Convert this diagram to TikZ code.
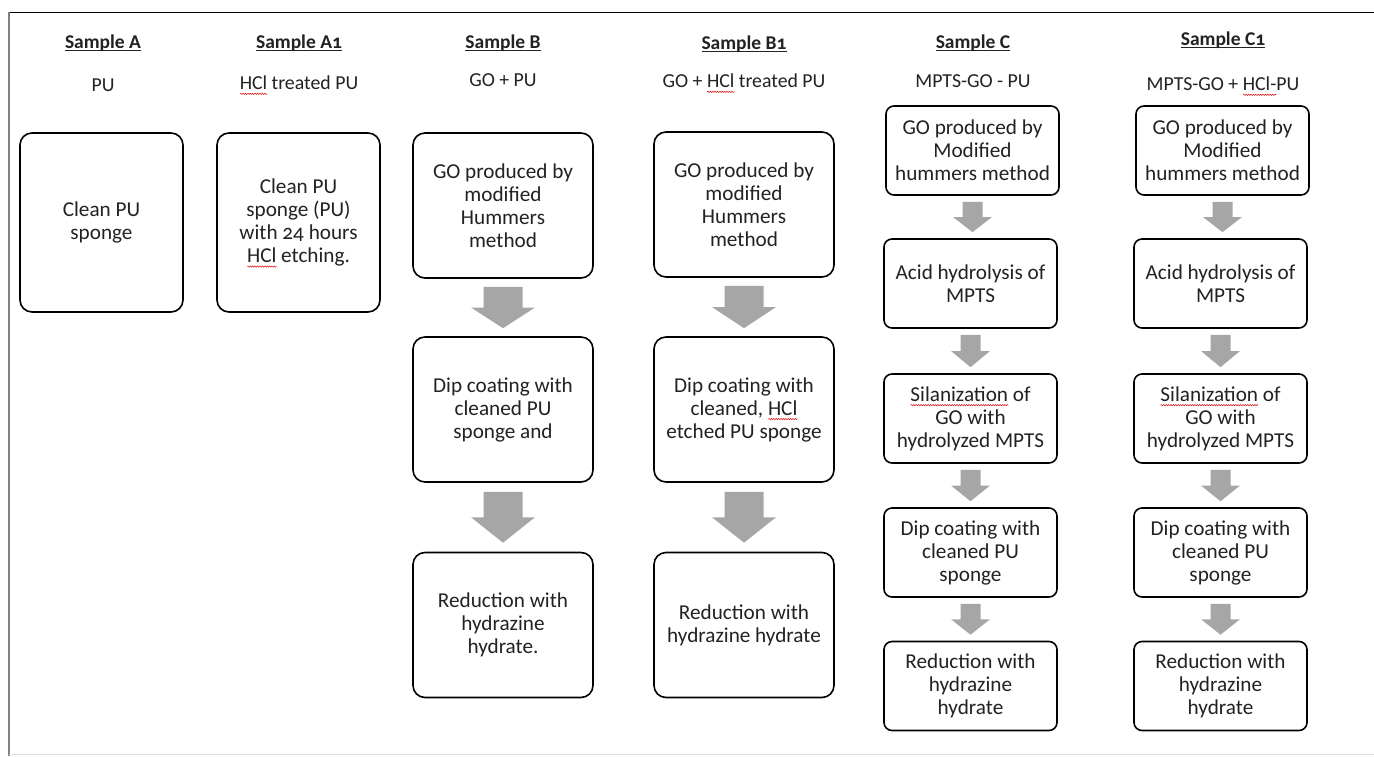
\documentclass[tikz,border=0pt]{standalone}
\usepackage{fontspec}
\setmainfont{Carlito}[Numbers=OldStyle]
\usetikzlibrary{calc,decorations.pathmorphing}
\newsavebox\mytbox
\newcommand\ul[1]{\sbox\mytbox{#1}\rlap{\rule[-3pt]{\wd\mytbox}{1.2pt}}\usebox\mytbox}
\tikzset{wavy/.style={draw=red!85!black, line width=0.45pt, sharp corners, decorate, decoration={snake,amplitude=0.7pt,segment length=2.4pt}}}
\newcommand\sqw[1]{\sbox\mytbox{#1}\rlap{\smash{\raisebox{-4pt}{\tikz[x=1pt,y=1pt,baseline=0pt]\path[wavy] (0,0) -- (\wd\mytbox,0);}}}\usebox\mytbox}
\definecolor{arrowgray}{RGB}{166,166,166}
\definecolor{txt}{RGB}{34,34,34}
\tikzset{
  box/.style={draw=black, line width=1.6pt, rounded corners=12pt, align=center, inner sep=0pt,
    text=txt, font=\fontsize{21.2}{23}\selectfont},
  bigbox/.style={box, minimum width=#1, minimum height=145pt},
  smallbox/.style={box, rounded corners=8pt, minimum width=173pt, minimum height=89pt},
  head/.style={font=\bfseries\fontsize{19.5}{22}\selectfont, text=txt, inner sep=0pt},
  sub/.style={font=\fontsize{19.8}{22}\selectfont, text=txt, inner sep=0pt},
}
% block arrow between two named boxes: from, to, body half width, head half width, gap
\newcommand\barrow[5]{\fill[arrowgray] let \p1=(#1.south), \p2=(#2.north) in
  (\x1-#3pt,\y1-#5pt) -- (\x1+#3pt,\y1-#5pt) -- (\x1+#3pt,{(\y1+\y2)/2}) -- (\x1+#4pt,{(\y1+\y2)/2})
  -- (\x1,\y2+#5pt) -- (\x1-#4pt,{(\y1+\y2)/2}) -- (\x1-#3pt,{(\y1+\y2)/2}) -- cycle;}
\begin{document}
\begin{tikzpicture}[x=1pt,y=-1pt]
\useasboundingbox[fill=white] (0,0) rectangle (1374,756);
% frame
\coordinate (f1) at (9,12);
\coordinate (f2) at (1374,12);
\coordinate (f3) at (9,756);
\coordinate (f4) at (1374,754);
\coordinate (f5) at (9,754);
\draw[black, line width=1pt] (f1) -- (f2);
\draw[gray, line width=2pt] (f1) -- (f3);
\draw[gray!25, line width=1pt] (f5) -- (f4);

% headings
\node[head] (hA)  at (103,43)  {\ul{Sample A}};
\node[head] (hA1) at (299,43)  {\ul{Sample A1}};
\node[head] (hB)  at (503,43)  {\ul{Sample B}};
\node[head] (hB1) at (744,44)  {\ul{Sample B1}};
\node[head] (hC)  at (973,43)  {\ul{Sample C}};
\node[head] (hC1) at (1223,40) {\ul{Sample C1}};

% subtitles
\node[sub] (sA)  at (103,85)  {PU};
\node[sub] (sA1) at (299,83)  {\sqw{HCl} treated PU};
\node[sub] (sB)  at (503,80)  {GO + PU};
\node[sub] (sB1) at (744,81)  {GO + \sqw{HCl} treated PU};
\node[sub] (sC)  at (973,81)  {MPTS-GO - PU};
\node[sub] (sC1) at (1223,84) {MPTS-GO + \sqw{HCl-}PU};

% sample A, A1
\node[box, minimum width=163pt, minimum height=179pt] (a)  at (101.5,222.5) {Clean PU\\sponge};
\node[box, minimum width=163pt, minimum height=179pt] (a1) at (298.5,222.5) {Clean PU\\sponge (PU)\\with 24 hours\\\sqw{HCl} etching.};

% sample B
\node[bigbox=180pt] (b1) at (503,205.5) {GO produced by\\modified\\Hummers\\method};
\node[bigbox=180pt] (b2) at (503,409.5) {Dip coating with\\cleaned PU\\sponge and};
\node[bigbox=180pt] (b3) at (503,625)   {Reduction with\\hydrazine\\hydrate.};
\barrow{b1}{b2}{19.5}{32}{8}
\barrow{b2}{b3}{19.5}{32}{9}

% sample B1
\node[bigbox=180pt] (c1) at (744,204.5) {GO produced by\\modified\\Hummers\\method};
\node[bigbox=180pt] (c2) at (744,409.5) {Dip coating with\\cleaned, \sqw{HCl}\\etched PU sponge};
\node[bigbox=180pt] (c3) at (744,625)   {Reduction with\\hydrazine hydrate};
\barrow{c1}{c2}{19.5}{32}{8}
\barrow{c2}{c3}{19.5}{32}{9}

% sample C
\node[smallbox] (d1) at (972.5,150.5) {GO produced by\\Modified\\hummers method};
\node[smallbox] (d2) at (970.5,283.5) {Acid hydrolysis of\\MPTS};
\node[smallbox] (d3) at (970.5,418.5) {\sqw{Silanization} of\\GO with\\hydrolyzed MPTS};
\node[smallbox] (d4) at (970.5,552.5) {Dip coating with\\cleaned PU\\sponge};
\node[smallbox] (d5) at (970.5,686)   {Reduction with\\hydrazine\\hydrate};
\barrow{d1}{d2}{10}{19.5}{6}
\barrow{d2}{d3}{10}{19.5}{6}
\barrow{d3}{d4}{10}{19.5}{6}
\barrow{d4}{d5}{10}{19.5}{6}

% sample C1
\node[smallbox] (e1) at (1222.5,150.5) {GO produced by\\Modified\\hummers method};
\node[smallbox] (e2) at (1220.5,283.5) {Acid hydrolysis of\\MPTS};
\node[smallbox] (e3) at (1220.5,418.5) {\sqw{Silanization} of\\GO with\\hydrolyzed MPTS};
\node[smallbox] (e4) at (1220.5,552.5) {Dip coating with\\cleaned PU\\sponge};
\node[smallbox] (e5) at (1220.5,686)   {Reduction with\\hydrazine\\hydrate};
\barrow{e1}{e2}{10}{19.5}{6}
\barrow{e2}{e3}{10}{19.5}{6}
\barrow{e3}{e4}{10}{19.5}{6}
\barrow{e4}{e5}{10}{19.5}{6}
\end{tikzpicture}
\end{document}
